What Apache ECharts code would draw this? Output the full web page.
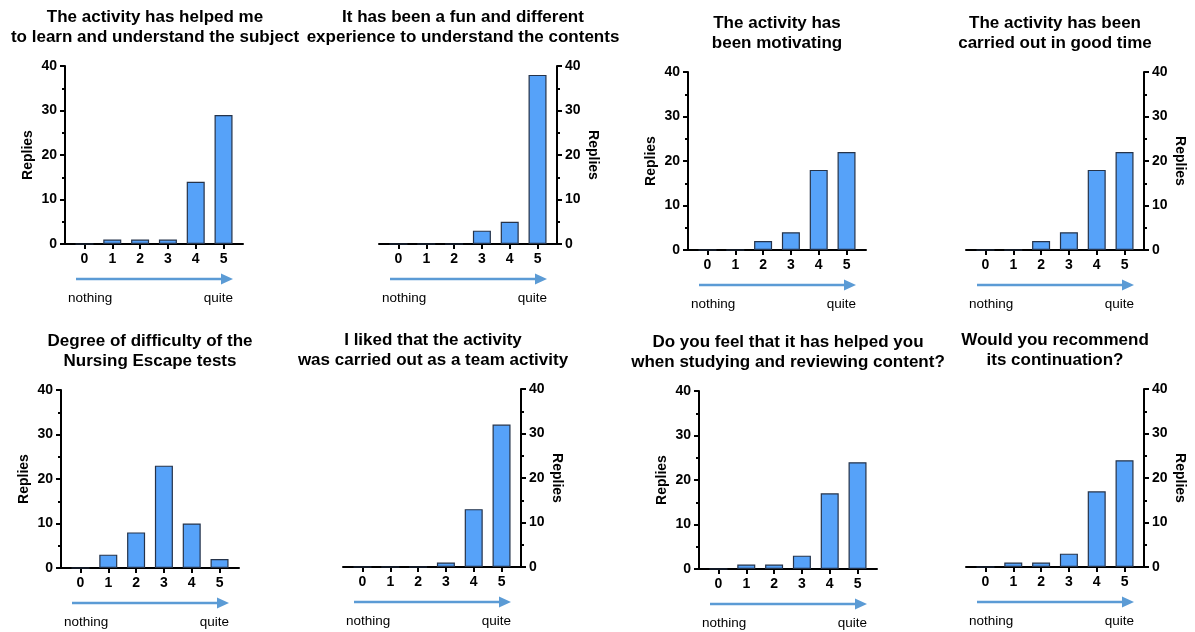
<!DOCTYPE html>
<html>
<head>
<meta charset="utf-8">
<script src="https://cdn.jsdelivr.net/npm/echarts@6/dist/echarts.min.js"></script>
<style>
html,body{margin:0;padding:0;background:#fff;}
#chart{width:1195px;height:632px;}
</style>
</head>
<body>
<div id="chart"></div>
<script>
// ---- Data ----
const categories = ['0', '1', '2', '3', '4', '5'];
const yTicks = [0, 10, 20, 30, 40];
const titles = [
  'The activity has helped me\nto learn and understand the subject',
  'It has been a fun and different\nexperience to understand the contents',
  'The activity has\nbeen motivating',
  'The activity has been\ncarried out in good time',
  'Degree of difficulty of the\nNursing Escape tests',
  'I liked that the activity\nwas carried out as a team activity',
  'Do you feel that it has helped you\nwhen studying and reviewing content?',
  'Would you recommend\nits continuation?'
];
const learnUnderstand = [0, 1, 1, 1, 14, 29];
const funDifferent = [0, 0, 0, 3, 5, 38];
const motivating = [0, 0, 2, 4, 18, 22];
const goodTime = [0, 0, 2, 4, 18, 22];
const difficulty = [0, 3, 8, 23, 10, 2];
const teamActivity = [0, 0, 0, 1, 13, 32];
const helpedStudying = [0, 1, 1, 3, 17, 24];
const recommend = [0, 1, 1, 3, 17, 24];
const seriesList = [learnUnderstand, funDifferent, motivating, goodTime, difficulty, teamActivity, helpedStudying, recommend];
const axisName = 'Replies';
const scaleLow = 'nothing';
const scaleHigh = 'quite';

// ---- Layout ----
const panels = [
  {left: 65,  top: 66,  side: 'left',  tx: 155,  ty: 8},
  {left: 379, top: 66,  side: 'right', tx: 463,  ty: 8},
  {left: 688, top: 72,  side: 'left',  tx: 777,  ty: 14},
  {left: 966, top: 72,  side: 'right', tx: 1055, ty: 14},
  {left: 61,  top: 390, side: 'left',  tx: 150,  ty: 332},
  {left: 343, top: 389, side: 'right', tx: 433,  ty: 331},
  {left: 699, top: 391, side: 'left',  tx: 788,  ty: 333},
  {left: 966, top: 389, side: 'right', tx: 1055, ty: 331}
];
const W = 178, H = 178;
const FONT = '"Liberation Sans", Arial, Helvetica, sans-serif';
const ARROW = '#5b9bd5';

const grids = [], xAxes = [], yAxes = [], series = [], graphics = [];
panels.forEach((p, i) => {
  grids.push({left: p.left, top: p.top, width: W, height: H, containLabel: false});
  xAxes.push({
    type: 'value', gridIndex: i, min: -0.7, max: 5.7,
    axisLine: {show: true, onZero: false, lineStyle: {color: '#000', width: 2}},
    axisTick: {show: true, customValues: [0, 1, 2, 3, 4, 5], length: 5, lineStyle: {color: '#000', width: 2}},
    axisLabel: {show: true, customValues: [0, 1, 2, 3, 4, 5], formatter: v => categories[Math.round(v)],
      fontFamily: FONT, fontWeight: 'bold', fontSize: 14, color: '#000', margin: 8},
    splitLine: {show: false}
  });
  yAxes.push({
    type: 'value', gridIndex: i, position: p.side, min: 0, max: 40, interval: 10,
    name: axisName, nameLocation: 'middle', nameGap: p.side === 'left' ? 30 : 29,
    nameRotate: p.side === 'left' ? 90 : -90,
    nameTextStyle: {fontFamily: FONT, fontWeight: 'bold', fontSize: 14, color: '#000'},
    axisLine: {show: true, onZero: false, lineStyle: {color: '#000', width: 2}},
    axisTick: {show: true, length: 5, lineStyle: {color: '#000', width: 2}},
    minorTick: {show: true, splitNumber: 2, length: 3, lineStyle: {color: '#000', width: 2}},
    axisLabel: {fontFamily: FONT, fontWeight: 'bold', fontSize: 14, color: '#000', margin: 8,
      customValues: yTicks},
    splitLine: {show: false}
  });
  series.push({
    type: 'bar', xAxisIndex: i, yAxisIndex: i, barWidth: 18,
    data: seriesList[i].map((v, k) => [k, v]),
    itemStyle: {color: '#56a2f9', borderColor: '#25334a', borderWidth: 1.2},
    silent: true
  });
  // title
  graphics.push({type: 'text', x: p.tx, y: p.ty,
    style: {text: titles[i], textAlign: 'center', textVerticalAlign: 'top',
      font: 'bold 17px ' + FONT, fill: '#000', lineHeight: 19.5}});
  // arrow
  const ay = p.top + H + 35;
  graphics.push({type: 'line', shape: {x1: p.left + 11, y1: ay, x2: p.left + 158, y2: ay},
    style: {stroke: ARROW, lineWidth: 2.5}});
  graphics.push({type: 'polygon', shape: {points: [[p.left + 156, ay - 5.5], [p.left + 168, ay], [p.left + 156, ay + 5.5]]},
    style: {fill: ARROW}});
  graphics.push({type: 'text', x: p.left + 3, y: ay + 19,
    style: {text: scaleLow, textAlign: 'left', textVerticalAlign: 'middle', font: '13.5px ' + FONT, fill: '#000'}});
  graphics.push({type: 'text', x: p.left + 168, y: ay + 19,
    style: {text: scaleHigh, textAlign: 'right', textVerticalAlign: 'middle', font: '13.5px ' + FONT, fill: '#000'}});
});

const chart = echarts.init(document.getElementById('chart'), null, {renderer: 'canvas'});
chart.setOption({
  animation: false,
  backgroundColor: '#fff',
  grid: grids, xAxis: xAxes, yAxis: yAxes, series: series,
  graphic: graphics
});
</script>
</body>
</html>
